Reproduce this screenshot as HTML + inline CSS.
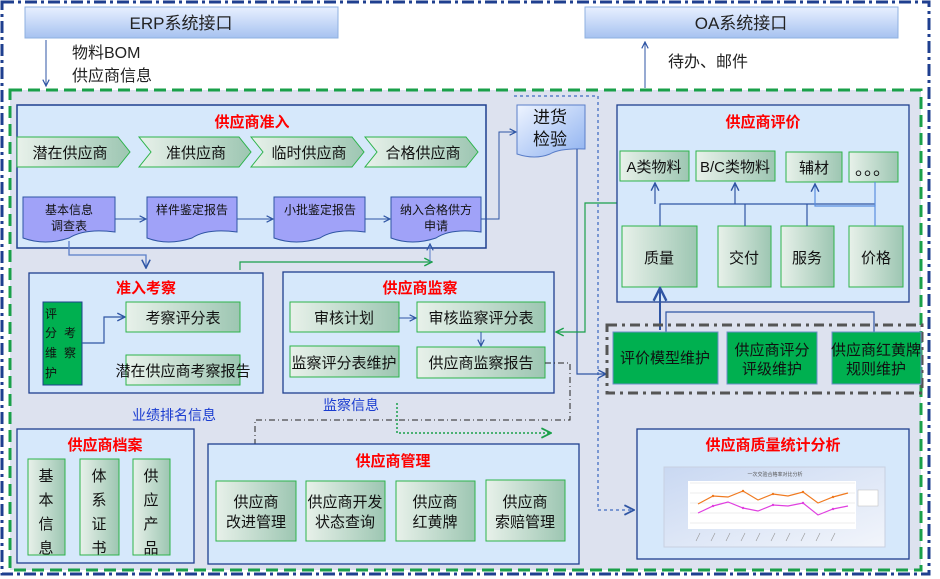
<!DOCTYPE html>
<html><head><meta charset="utf-8"><style>
body{margin:0;background:#fff}
svg{display:block;font-family:"Liberation Sans","Noto Sans CJK SC",sans-serif}
</style></head><body>
<svg width="940" height="579" viewBox="0 0 940 579">
<defs>
<linearGradient id="gg" x1="0" x2="1"><stop offset="0" stop-color="#e8f1ea"/><stop offset="1" stop-color="#9dc6b2"/></linearGradient>
<linearGradient id="hb" x1="0" y1="0" x2="0" y2="1"><stop offset="0" stop-color="#e8f0ff"/><stop offset="1" stop-color="#a6c2f0"/></linearGradient>
<linearGradient id="jb" x1="0" y1="0" x2="1" y2="1"><stop offset="0" stop-color="#eef4ff"/><stop offset="1" stop-color="#8fb2f0"/></linearGradient>
<linearGradient id="cb" x1="0" y1="0" x2="1" y2="1"><stop offset="0" stop-color="#c9d8f2"/><stop offset="1" stop-color="#f2f5fb"/></linearGradient>
<marker id="ar" viewBox="0 0 10 10" refX="9" refY="5" markerWidth="8" markerHeight="8" orient="auto"><path d="M1,1L9,5L1,9" fill="none" stroke="#2f55a4" stroke-width="1.5"/></marker>
<marker id="ag" viewBox="0 0 10 10" refX="9" refY="5" markerWidth="8" markerHeight="8" orient="auto"><path d="M1,1L9,5L1,9" fill="none" stroke="#1aa04a" stroke-width="1.5"/></marker>
<marker id="ak" viewBox="0 0 10 10" refX="9" refY="5" markerWidth="7" markerHeight="7" orient="auto"><path d="M1,1L9,5L1,9" fill="none" stroke="#222" stroke-width="1.5"/></marker>
</defs>
<rect x="2" y="2" width="927" height="572" fill="#fff" stroke="#1f3f8f" stroke-width="3" stroke-dasharray="12,4,3,4"/>
<rect x="10" y="90" width="911" height="480" fill="#dde2ef" stroke="#1aa04a" stroke-width="3" stroke-dasharray="12,6"/>
<rect x="25" y="7" width="313" height="31" fill="url(#hb)" stroke="#8fb0e0"/>
<text x="181" y="29" font-size="17" text-anchor="middle" fill="#222">ERP系统接口</text>
<rect x="585" y="7" width="313" height="31" fill="url(#hb)" stroke="#8fb0e0"/>
<text x="741" y="29" font-size="17" text-anchor="middle" fill="#222">OA系统接口</text>
<text x="72" y="58" font-size="16" fill="#222">物料BOM</text>
<text x="72" y="81" font-size="16" fill="#222">供应商信息</text>
<line x1="46" y1="40" x2="46" y2="86" stroke="#2f55a4" marker-end="url(#ar)"/>
<text x="668" y="67" font-size="16" fill="#222">待办、邮件</text>
<line x1="645" y1="88" x2="645" y2="42" stroke="#2f55a4" marker-end="url(#ar)"/>
<path d="M514,96 H598 V510 H634" fill="none" stroke="#5a7ec8" stroke-width="1.5" stroke-dasharray="3,3" marker-end="url(#ar)"/>
<rect x="17" y="105" width="469" height="143" fill="#d6e8fb" stroke="#1f3f8f" stroke-width="1.5"/>
<text x="252" y="127" font-size="15" font-weight="bold" fill="#f00" text-anchor="middle">供应商准入</text>
<g stroke="#2db34a" fill="url(#gg)">
<polygon points="17,137 118,137 130,152 118,167 17,167"/>
<polygon points="139,137 239,137 251,152 239,167 139,167 151,152"/>
<polygon points="251,137 352,137 364,152 352,167 251,167 263,152"/>
<polygon points="365,137 466,137 478,152 466,167 365,167 377,152"/>
</g>
<g font-size="15" fill="#111" text-anchor="middle">
<text x="70" y="158">潜在供应商</text><text x="196" y="158">准供应商</text><text x="309" y="158">临时供应商</text><text x="423" y="158">合格供应商</text>
</g>
<g fill="#a0a2f8" stroke="#2f55a4">
<path d="M23,197 H115 V232 Q85,228 69,238 Q45,246 23,238 Z"/>
<path d="M147,197 H237 V232 Q207,228 192,238 Q168,246 147,238 Z"/>
<path d="M274,197 H365 V232 Q335,228 320,238 Q296,246 274,238 Z"/>
<path d="M391,197 H481 V232 Q451,228 436,238 Q412,246 391,238 Z"/>
</g>
<g font-size="12" fill="#111" text-anchor="middle">
<text x="69" y="214">基本信息</text><text x="69" y="230">调查表</text>
<text x="192" y="214">样件鉴定报告</text><text x="320" y="214">小批鉴定报告</text>
<text x="436" y="214">纳入合格供方</text><text x="436" y="230">申请</text>
</g>
<g stroke="#2f55a4" fill="none" marker-end="url(#ar)">
<line x1="115" y1="219" x2="146" y2="219"/><line x1="237" y1="219" x2="273" y2="219"/><line x1="365" y1="219" x2="390" y2="219"/>
<path d="M481,219 H499 V132 H516"/>
</g>
<path d="M517,105 H585 V149 Q560,148 550,154 Q535,160 517,154 Z" fill="url(#jb)" stroke="#5a7ec8"/>
<text x="550" y="123" font-size="17" text-anchor="middle" fill="#111">进货</text>
<text x="550" y="145" font-size="17" text-anchor="middle" fill="#111">检验</text>
<path d="M577,149 V374 H606" fill="none" stroke="#2f55a4" stroke-width="1.2" marker-end="url(#ar)"/>
<path d="M69,241 V255 H146 V268" fill="none" stroke="#5a7ec8" stroke-width="1.3" marker-end="url(#ar)"/>
<path d="M240,270 V262 H432" fill="none" stroke="#1aa04a" stroke-width="1.2" marker-end="url(#ag)"/>
<line x1="430" y1="262" x2="430" y2="244" stroke="#5a7ec8" marker-end="url(#ar)"/>
<rect x="29" y="273" width="234" height="120" fill="#d6e8fb" stroke="#1f3f8f" stroke-width="1.3"/>
<text x="146" y="293" font-size="15" font-weight="bold" fill="#f00" text-anchor="middle">准入考察</text>
<rect x="43" y="302" width="39" height="83" fill="#00b050" stroke="#1f3f8f"/>
<g font-size="12" fill="#111"><text x="45" y="318">评</text><text x="45" y="337">分</text><text x="64" y="337">考</text><text x="45" y="357">维</text><text x="64" y="357">察</text><text x="45" y="377">护</text></g>
<path d="M82,343 H104 V317 H125" fill="none" stroke="#2f55a4" stroke-width="1.2" marker-end="url(#ar)"/>
<rect x="126" y="302" width="114" height="30" fill="url(#gg)" stroke="#2db34a"/>
<text x="183" y="323" font-size="15" text-anchor="middle" fill="#111">考察评分表</text>
<rect x="126" y="355" width="114" height="30" fill="url(#gg)" stroke="#2db34a"/>
<text x="183" y="376" font-size="15" text-anchor="middle" fill="#111">潜在供应商考察报告</text>
<rect x="283" y="272" width="271" height="121" fill="#d6e8fb" stroke="#1f3f8f" stroke-width="1.3"/>
<text x="420" y="293" font-size="15" font-weight="bold" fill="#f00" text-anchor="middle">供应商监察</text>
<g fill="url(#gg)" stroke="#2db34a">
<rect x="290" y="302" width="109" height="30"/><rect x="417" y="302" width="128" height="30"/>
<rect x="290" y="346" width="109" height="31"/><rect x="417" y="347" width="128" height="31"/>
</g>
<g font-size="15" fill="#111" text-anchor="middle">
<text x="344" y="323">审核计划</text><text x="481" y="323">审核监察评分表</text>
<text x="344" y="368">监察评分表维护</text><text x="481" y="368">供应商监察报告</text>
</g>
<line x1="399" y1="318" x2="416" y2="318" stroke="#2f55a4" marker-end="url(#ar)"/>
<line x1="481" y1="332" x2="481" y2="346" stroke="#2f55a4" marker-end="url(#ar)"/>
<path d="M617,203 H585 V332 H556" fill="none" stroke="#1aa04a" stroke-width="1.2" marker-end="url(#ag)"/>
<path d="M545,363 H570 V420 H255 V480" fill="none" stroke="#222" stroke-width="1" stroke-dasharray="6,3,1,3" marker-end="url(#ak)"/>
<path d="M397,403 V433 H551" fill="none" stroke="#1aa04a" stroke-width="1.5" stroke-dasharray="2,2" marker-end="url(#ag)"/>
<text x="132" y="420" font-size="14" fill="#1a3cd0">业绩排名信息</text>
<text x="323" y="410" font-size="14" fill="#1a3cd0">监察信息</text>
<rect x="617" y="105" width="292" height="197" fill="#d6e8fb" stroke="#1f3f8f" stroke-width="1.3"/>
<text x="763" y="127" font-size="15" font-weight="bold" fill="#f00" text-anchor="middle">供应商评价</text>
<g fill="url(#gg)" stroke="#2db34a">
<rect x="620" y="151" width="69" height="30"/><rect x="696" y="151" width="79" height="30"/>
<rect x="786" y="152" width="56" height="30"/><rect x="849" y="152" width="49" height="30"/>
<rect x="622" y="226" width="75" height="61"/><rect x="718" y="226" width="53" height="61"/>
<rect x="781" y="226" width="53" height="61"/><rect x="849" y="226" width="54" height="61"/>
</g>
<g font-size="15" fill="#111" text-anchor="middle">
<text x="654" y="172">A类物料</text><text x="735" y="172">B/C类物料</text><text x="814" y="173">辅材</text><text x="873" y="175" font-size="18">。。。</text>
<text x="659" y="263">质量</text><text x="744" y="263">交付</text><text x="807" y="263">服务</text><text x="876" y="263">价格</text>
</g>
<g fill="none" stroke="#2f55a4" stroke-width="1.2">
<path d="M660,226 V204 H875"/><line x1="745" y1="226" x2="745" y2="204"/><line x1="807" y1="226" x2="807" y2="204"/>
<line x1="655" y1="204" x2="655" y2="183" marker-end="url(#ar)"/><line x1="735" y1="204" x2="735" y2="183" marker-end="url(#ar)"/>
<path d="M875,226 V206 H815 V184" stroke="#5a8ee0" marker-end="url(#ar)"/>
<path d="M875,182 V206" stroke="#5a8ee0"/>
<path d="M660,330 V288" stroke-width="2" marker-end="url(#ar)"/>
<path d="M666,332 V312 H874 V332"/>
</g>
<rect x="607" y="325" width="315" height="68" fill="none" stroke="#555" stroke-width="3" stroke-dasharray="10,5,3,5"/>
<g fill="#00b050" stroke="#6a8ec8"><rect x="613" y="332" width="105" height="52"/><rect x="727" y="332" width="90" height="52"/><rect x="832" y="332" width="89" height="52"/></g>
<g font-size="15" fill="#111" text-anchor="middle">
<text x="665" y="363">评价模型维护</text><text x="772" y="355">供应商评分</text><text x="772" y="374">评级维护</text>
<text x="876" y="355">供应商红黄牌</text><text x="876" y="374">规则维护</text>
</g>
<rect x="17" y="429" width="177" height="134" fill="#d6e8fb" stroke="#1f3f8f" stroke-width="1.3"/>
<text x="105" y="450" font-size="15" font-weight="bold" fill="#f00" text-anchor="middle">供应商档案</text>
<g fill="url(#gg)" stroke="#2db34a"><rect x="28" y="459" width="37" height="96"/><rect x="80" y="459" width="39" height="96"/><rect x="133" y="459" width="37" height="96"/></g>
<g font-size="15" fill="#111" text-anchor="middle">
<text x="46" y="481">基</text><text x="46" y="505">本</text><text x="46" y="529">信</text><text x="46" y="553">息</text>
<text x="99" y="481">体</text><text x="99" y="505">系</text><text x="99" y="529">证</text><text x="99" y="553">书</text>
<text x="151" y="481">供</text><text x="151" y="505">应</text><text x="151" y="529">产</text><text x="151" y="553">品</text>
</g>
<rect x="208" y="444" width="371" height="120" fill="#d6e8fb" stroke="#1f3f8f" stroke-width="1.3"/>
<text x="393" y="466" font-size="15" font-weight="bold" fill="#f00" text-anchor="middle">供应商管理</text>
<g fill="url(#gg)" stroke="#2db34a"><rect x="216" y="481" width="80" height="60"/><rect x="306" y="481" width="79" height="60"/><rect x="396" y="481" width="79" height="60"/><rect x="486" y="480" width="79" height="61"/></g>
<g font-size="15" fill="#111" text-anchor="middle">
<text x="256" y="507">供应商</text><text x="256" y="527">改进管理</text>
<text x="345" y="507">供应商开发</text><text x="345" y="527">状态查询</text>
<text x="435" y="507">供应商</text><text x="435" y="527">红黄牌</text>
<text x="525" y="507">供应商</text><text x="525" y="527">索赔管理</text>
</g>
<rect x="637" y="429" width="272" height="130" fill="#d6e8fb" stroke="#1f3f8f" stroke-width="1.3"/>
<text x="773" y="450" font-size="15" font-weight="bold" fill="#f00" text-anchor="middle">供应商质量统计分析</text>
<rect x="664" y="467" width="221" height="80" fill="url(#cb)" stroke="#c8d0e0"/>
<rect x="688" y="481" width="168" height="48" fill="#fff"/>
<text x="775" y="476" font-size="5" text-anchor="middle" fill="#555">一次交验合格率对比分析</text>
<g stroke="#ddd" stroke-width="0.5"><line x1="690" y1="483" x2="855" y2="483"/><line x1="690" y1="493" x2="855" y2="493"/><line x1="690" y1="503" x2="855" y2="503"/><line x1="690" y1="513" x2="855" y2="513"/><line x1="690" y1="523" x2="855" y2="523"/></g>
<polyline points="698,504 713,496 728,497 743,491 758,500 773,494 788,496 803,492 818,503 833,497 848,493" fill="none" stroke="#f07a20" stroke-width="1.2"/>
<polyline points="698,513 713,506 728,502 743,508 758,511 773,505 788,506 803,503 818,515 833,509 848,506" fill="none" stroke="#e040e0" stroke-width="1.2"/>
<g fill="#f07a20"><circle cx="713" cy="496" r="1.2"/><circle cx="743" cy="491" r="1.2"/><circle cx="773" cy="494" r="1.2"/><circle cx="803" cy="492" r="1.2"/><circle cx="833" cy="497" r="1.2"/></g>
<g fill="#e040e0"><circle cx="713" cy="506" r="1.2"/><circle cx="743" cy="508" r="1.2"/><circle cx="773" cy="505" r="1.2"/><circle cx="803" cy="503" r="1.2"/><circle cx="833" cy="509" r="1.2"/></g>
<g stroke="#999" stroke-width="0.6"><line x1="700" y1="533" x2="696" y2="541"/><line x1="715" y1="533" x2="711" y2="541"/><line x1="730" y1="533" x2="726" y2="541"/><line x1="745" y1="533" x2="741" y2="541"/><line x1="760" y1="533" x2="756" y2="541"/><line x1="775" y1="533" x2="771" y2="541"/><line x1="790" y1="533" x2="786" y2="541"/><line x1="805" y1="533" x2="801" y2="541"/><line x1="820" y1="533" x2="816" y2="541"/><line x1="835" y1="533" x2="831" y2="541"/></g>
<rect x="858" y="490" width="20" height="16" fill="#fff" stroke="#bbb" stroke-width="0.5"/>
</svg>
</body></html>
